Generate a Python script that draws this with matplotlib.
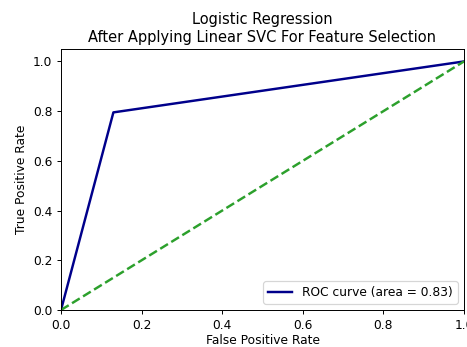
import matplotlib
matplotlib.use("Agg")
import matplotlib.pyplot as plt

fpr = [0.0, 0.13, 1.0]
tpr = [0.0, 0.795, 1.0]
chance = [0.0, 1.0]
roc_auc = 0.83

DPI = 88
fig = plt.figure(figsize=(467/DPI, 347/DPI), dpi=DPI)
ax = fig.add_axes([61/467, 37/347, 403/467, 261/347])
ax.plot(fpr, tpr, color='darkblue', lw=2, label='ROC curve (area = %0.2f)' % roc_auc)
ax.plot(chance, chance, color='#2ca02c', lw=2, linestyle='--')
ax.set_xlim(0.0, 1.0)
ax.set_ylim(0.0, 1.05)
ax.set_xlabel('False Positive Rate', labelpad=2)
ax.set_ylabel('True Positive Rate')
ax.set_title('Logistic Regression\nAfter Applying Linear SVC For Feature Selection', fontsize=12)
ax.legend(loc='lower right')
fig.savefig('out.png', dpi=DPI)
